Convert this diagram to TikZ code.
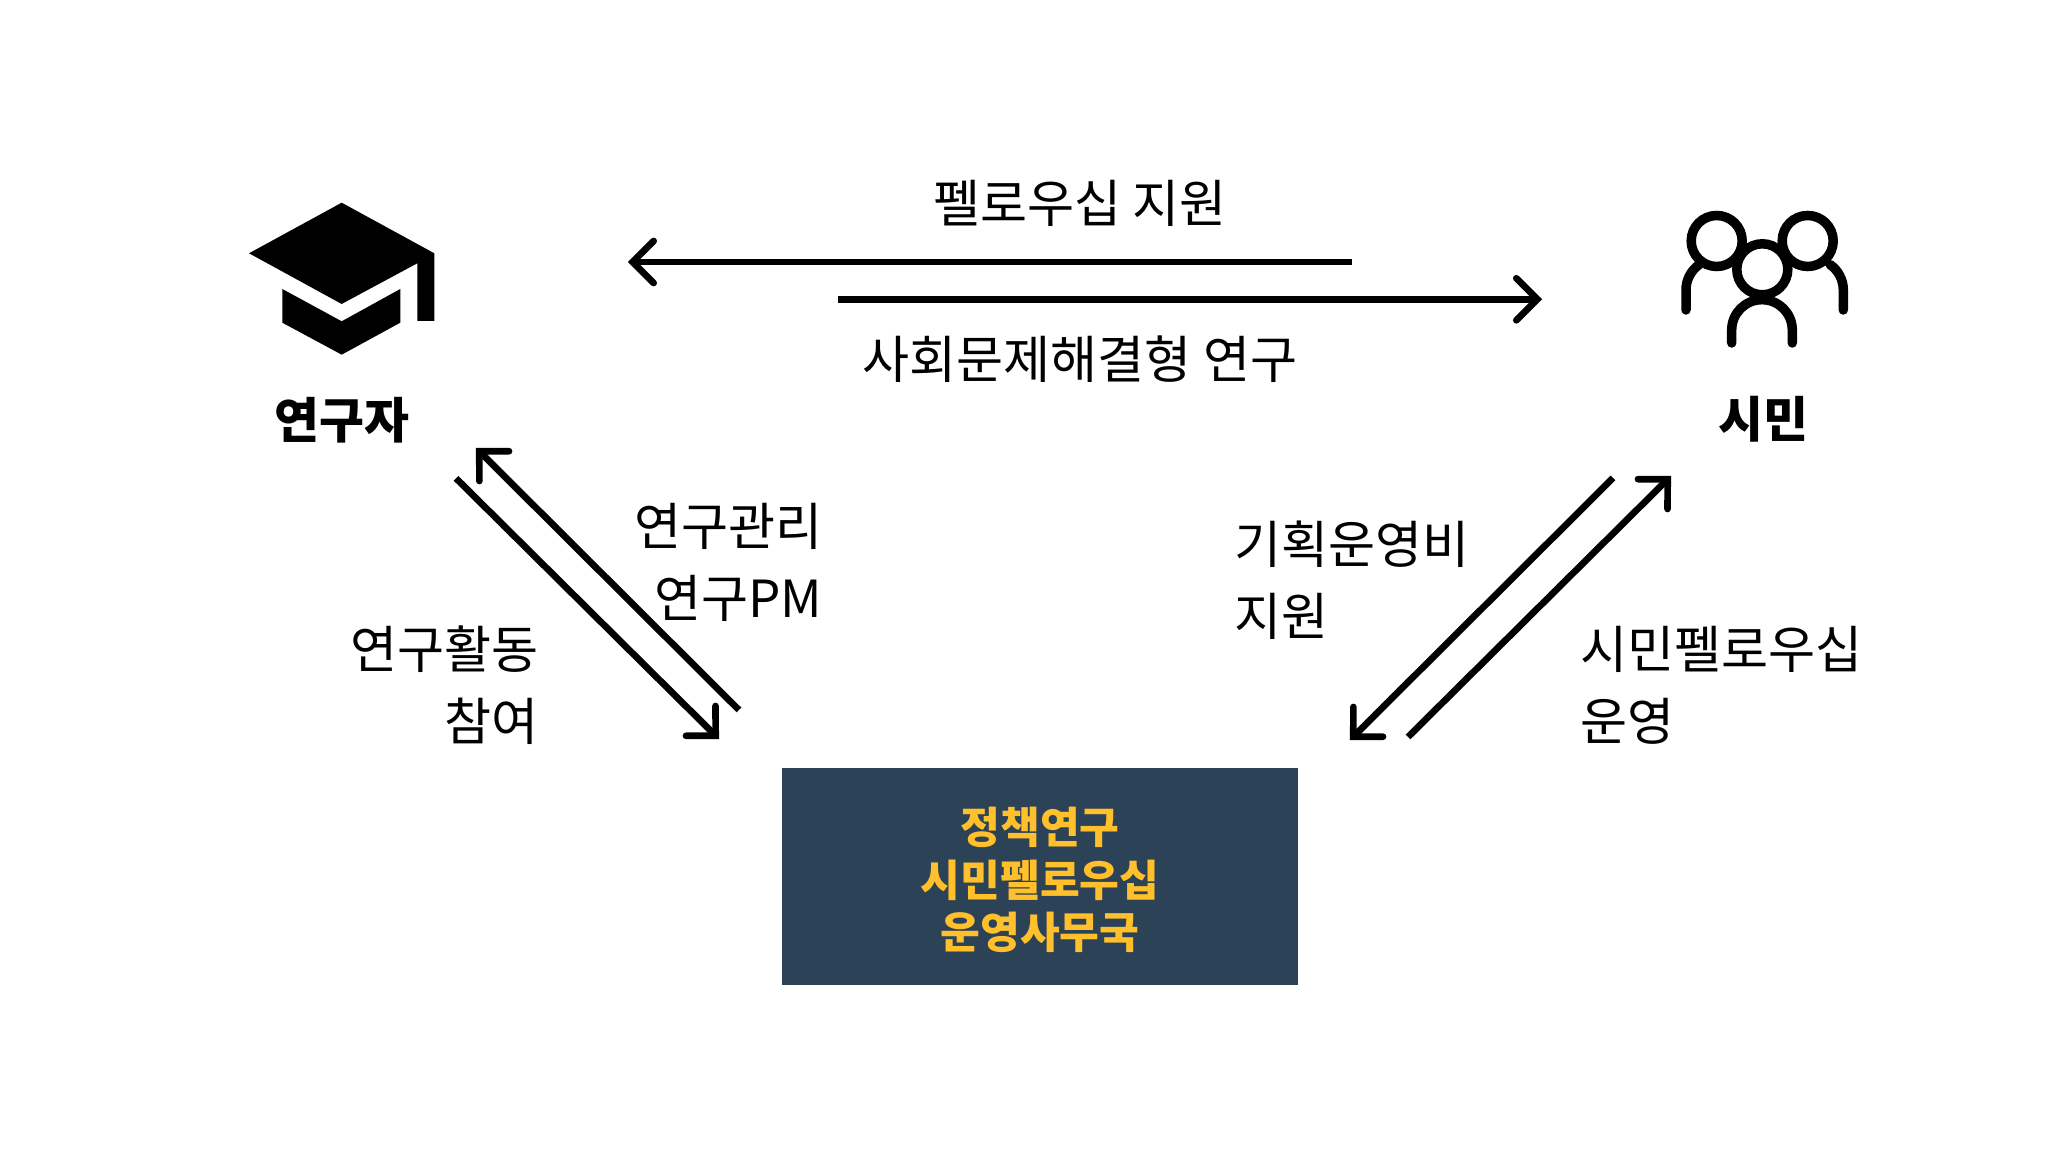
\documentclass[tikz,border=0pt]{standalone}
\usepackage{fontspec}
\setmainfont{Noto Sans CJK KR}
\usepackage{xcolor}
\usetikzlibrary{arrows.meta,positioning}
\definecolor{ink}{HTML}{000000}
\definecolor{navy}{HTML}{2C4257}
\definecolor{amber}{HTML}{FFC02B}

\pgfdeclarearrow{
  name=Chevron,
  parameters={\the\pgfarrowlength},
  setup code={\pgfarrowssettipend{0.7\pgflinewidth}\pgfarrowssetlineend{0pt}\pgfarrowssavethe\pgfarrowlength},
  defaults={length=2.1mm},
  drawing code={
    \pgfsetdash{}{0pt}\pgfsetroundcap\pgfsetmiterjoin
    \pgfpathmoveto{\pgfqpoint{-\pgfarrowlength}{\pgfarrowlength}}
    \pgfpathlineto{\pgfpointorigin}
    \pgfpathlineto{\pgfqpoint{-\pgfarrowlength}{-\pgfarrowlength}}
    \pgfusepathqstroke
  }
}

\begin{document}
\begin{tikzpicture}[
  label/.style={font=\fontsize{14.55pt}{20.5pt}\selectfont, text=ink, inner sep=0pt, align=center},
  leftlabel/.style={label, align=left},
  rightlabel/.style={label, align=right},
  actor/.style={font=\fontsize{13.9pt}{16pt}\selectfont\bfseries, text=ink, inner sep=0pt},
  office/.style={fill=navy, draw=none, minimum width=5.16cm, minimum height=2.17cm, inner sep=0pt, align=center, text=amber, font=\fontsize{12.3pt}{15pt}\selectfont\bfseries},
  arrow/.style={-{Chevron}, line width=0.067cm, draw=ink},
  person/.style={line width=0.095cm, draw=ink, line cap=round}
]
\useasboundingbox (0,0) rectangle (20.48,11.52);

% graduation cap
\fill[ink] (3.417,9.493) -- (2.49,8.987) -- (3.417,8.48) -- (4.173,8.887) -- (4.173,8.31) -- (4.343,8.31) -- (4.343,8.987) -- cycle;
\fill[ink] (2.823,8.63) -- (3.417,8.307) -- (4.003,8.63) -- (4.003,8.293) -- (3.417,7.973) -- (2.823,8.293) -- cycle;

% citizens
\draw[person] (17.167,9.11) circle (0.255);
\draw[person] (18.077,9.11) circle (0.255);
\draw[person] (17.623,8.827) circle (0.255);
\draw[person] (16.86,8.42) -- (16.86,8.62) arc[start angle=180, end angle=125, radius=0.31];
\draw[person] (18.433,8.42) -- (18.433,8.62) arc[start angle=0, end angle=55, radius=0.31];
\draw[person] (17.317,8.09) -- (17.317,8.22) arc[start angle=180, end angle=0, radius=0.303] -- (17.923,8.09);

\node[actor] (researcher) at (3.42,7.32) {연구자};
\node[actor] (citizen) at (17.63,7.33) {시민};
\node[office] (secretariat) at (10.40,2.755) {\rule{0pt}{12.4pt}정책연구\\시민펠로우십\\운영사무국};

\node[label] (fellowship) at (10.80,9.49) {펠로우십 지원};
\node[label] (solving) at (10.8,7.93) {사회문제해결형 연구};
\node[rightlabel, anchor=east] (manage) at (8.23,5.9) {연구관리\\연구PM};
\node[rightlabel, anchor=east] (join) at (5.39,4.67) {연구활동\\참여};
\node[leftlabel, anchor=west] (budget) at (12.34,5.72) {기획운영비\\지원};
\node[leftlabel, anchor=west] (operate) at (15.80,4.67) {시민펠로우십\\운영};

\coordinate (topa) at (13.52,8.9);
\coordinate (topb) at (6.28,8.9);
\coordinate (topc) at (8.38,8.527);
\coordinate (topd) at (15.42,8.527);
\coordinate (lefta) at (7.39,4.42);
\coordinate (leftb) at (4.76,7.04);
\coordinate (leftc) at (4.56,6.737);
\coordinate (leftd) at (7.19,4.13);
\coordinate (righta) at (16.13,6.74);
\coordinate (rightb) at (13.5,4.12);
\coordinate (rightc) at (14.08,4.15);
\coordinate (rightd) at (16.71,6.76);

\draw[arrow] (topa) -- (topb);
\draw[arrow] (topc) -- (topd);
\draw[arrow] (lefta) -- (leftb);
\draw[arrow] (leftc) -- (leftd);
\draw[arrow] (righta) -- (rightb);
\draw[arrow] (rightc) -- (rightd);

\end{tikzpicture}
\end{document}
